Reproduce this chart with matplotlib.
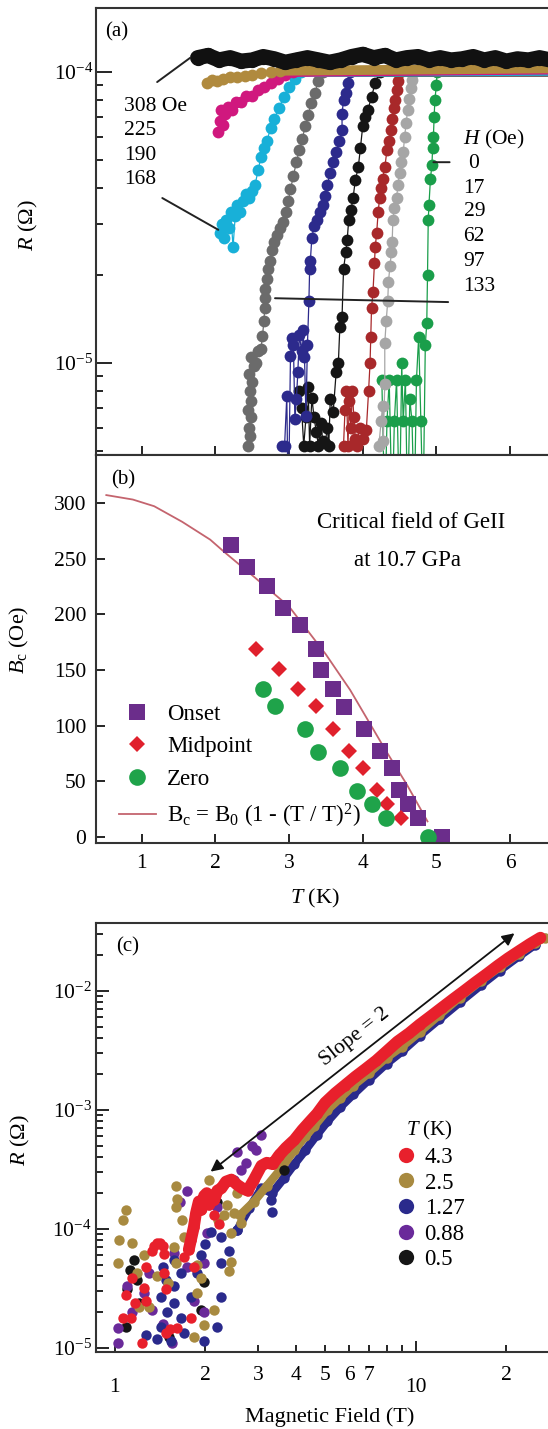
import matplotlib
matplotlib.use("Agg")
import matplotlib.pyplot as plt
from matplotlib.ticker import FixedLocator, NullFormatter, FixedFormatter
from matplotlib.lines import Line2D

plt.rcParams['font.family'] = ['Liberation Serif', 'DejaVu Serif']
plt.rcParams['mathtext.fontset'] = 'custom'
plt.rcParams['mathtext.rm'] = 'Liberation Serif'
plt.rcParams['mathtext.it'] = 'Liberation Serif:italic'
plt.rcParams['mathtext.bf'] = 'Liberation Serif:bold'
plt.rcParams['axes.linewidth'] = 1.5
plt.rcParams['axes.edgecolor'] = '#333333'

# ---------------- panel (a): R(T) at fixed fields ----------------
fields_a = [0, 17, 29, 62, 97, 133, 168, 190, 225]
colors_a = ['#1a9e4a', '#a6a6a6', '#a8282a', '#151515', '#2c2a8c',
            '#6b6b6b', '#18b0d8', '#d0187e', '#b08a3e']

T_0 = [4.26, 4.30, 4.33, 4.36, 4.40, 4.43, 4.46, 4.50, 4.53, 4.55, 4.58, 4.61, 4.64, 4.67, 4.70,
       4.73, 4.76, 4.79, 4.82, 4.85, 4.87, 4.88, 4.89, 4.90, 4.92, 4.94, 4.95, 4.96, 4.97, 4.98, 5.00, 5.01]
R_0 = [8.75e-6, 3e-6, 6.3e-6, 8.75e-6, 3e-6, 6.3e-6, 8.75e-6, 3e-6, 1.0e-5, 6.3e-6, 8.75e-6, 3e-6,
       7.5e-6, 6.3e-6, 3e-6, 8.75e-6, 1.23e-5, 6.3e-6, 3e-6, 1.15e-5, 1.37e-5, 2.0e-5, 3.1e-5, 3.5e-5,
       4.3e-5, 4.8e-5, 5.5e-5, 6.0e-5, 7.0e-5, 8.0e-5, 9.0e-5, 1.0e-4]

T_17 = [4.22, 4.25, 4.27, 4.28, 4.30, 4.30, 4.32, 4.34, 4.35, 4.37, 4.39, 4.40, 4.41, 4.43, 4.46,
        4.48, 4.50, 4.52, 4.55, 4.57, 4.59, 4.61, 4.63, 4.65, 4.67, 4.69]
R_17 = [5.2e-6, 6.3e-6, 7.1e-6, 5.4e-6, 8.5e-6, 1.17e-5, 1.4e-5, 1.63e-5, 1.9e-5, 2.15e-5, 2.4e-5,
        2.6e-5, 3.1e-5, 3.4e-5, 3.7e-5, 4.1e-5, 4.5e-5, 4.9e-5, 5.3e-5, 6.0e-5, 6.7e-5, 7.4e-5,
        8.1e-5, 8.8e-5, 9.4e-5, 1.0e-4]

T_29 = [3.74, 3.76, 3.78, 3.80, 3.82, 3.84, 3.86, 3.88, 3.90, 3.92, 3.96, 4.00, 4.05, 4.08, 4.10,
        4.11, 4.12, 4.14, 4.16, 4.17, 4.19, 4.21, 4.23, 4.25, 4.27, 4.30, 4.33, 4.36, 4.38, 4.40,
        4.42, 4.44, 4.46, 4.48, 4.50]
R_29 = [5.2e-6, 6.9e-6, 8.0e-6, 5.2e-6, 7.4e-6, 6.0e-6, 8.0e-6, 6.5e-6, 5.5e-6, 5.2e-6, 6.0e-6,
        5.5e-6, 5.9e-6, 8.0e-6, 1.0e-5, 1.23e-5, 1.54e-5, 1.76e-5, 2.2e-5, 2.5e-5, 2.8e-5, 3.3e-5,
        3.7e-5, 4.0e-5, 4.3e-5, 4.7e-5, 5.4e-5, 5.8e-5, 6.3e-5, 6.9e-5, 7.5e-5, 8.0e-5, 8.7e-5,
        9.3e-5, 1.0e-4]

T_62 = [3.14, 3.17, 3.20, 3.23, 3.26, 3.28, 3.31, 3.34, 3.37, 3.40, 3.43, 3.46, 3.49, 3.52, 3.54,
        3.56, 3.60, 3.64, 3.67, 3.69, 3.72, 3.74, 3.77, 3.79, 3.81, 3.84, 3.87, 3.90, 3.94, 3.97,
        4.00, 4.03, 4.07, 4.12, 4.17, 4.23]
R_62 = [8.0e-6, 7.0e-6, 5.2e-6, 6.5e-6, 8.3e-6, 5.2e-6, 7.6e-6, 6.5e-6, 5.8e-6, 5.2e-6, 6.2e-6,
        5.4e-6, 5.3e-6, 6.0e-6, 5.2e-6, 7.5e-6, 6.8e-6, 9.3e-6, 1.0e-5, 1.33e-5, 1.44e-5, 2.1e-5,
        2.4e-5, 2.65e-5, 3.1e-5, 3.35e-5, 3.7e-5, 4.25e-5, 4.7e-5, 5.5e-5, 6.5e-5, 7.0e-5, 7.4e-5,
        8.2e-5, 9.2e-5, 1.0e-4]

T_97 = [2.91, 2.94, 2.97, 2.99, 3.02, 3.04, 3.06, 3.08, 3.10, 3.12, 3.14, 3.17, 3.19, 3.21, 3.23,
        3.25, 3.27, 3.28, 3.29, 3.31, 3.34, 3.38, 3.42, 3.46, 3.49, 3.52, 3.56, 3.60, 3.64, 3.68,
        3.72, 3.72, 3.74, 3.77, 3.80, 3.83]
R_97 = [5.2e-6, 5.2e-6, 7.7e-6, 3e-6, 1.06e-5, 1.22e-5, 1.15e-5, 6.4e-6, 7.5e-6, 9.3e-6, 1.25e-5,
        1.1e-5, 1.3e-5, 1.05e-5, 6.6e-6, 1.15e-5, 1.63e-5, 2.1e-5, 2.25e-5, 2.7e-5, 2.95e-5, 3.1e-5,
        3.3e-5, 3.5e-5, 3.75e-5, 4.1e-5, 4.5e-5, 4.9e-5, 5.3e-5, 5.8e-5, 6.3e-5, 7.2e-5, 8.0e-5,
        8.5e-5, 9.2e-5, 1.0e-4]

T_133 = [2.45, 2.47, 2.46, 2.48, 2.45, 2.49, 2.47, 2.50, 2.46, 2.52, 2.48, 2.55, 2.58, 2.62, 2.64,
         2.66, 2.67, 2.67, 2.68, 2.70, 2.72, 2.74, 2.77, 2.80, 2.84, 2.88, 2.92, 2.96, 2.99, 3.02,
         3.06, 3.10, 3.14, 3.18, 3.22, 3.26, 3.30, 3.35, 3.40, 3.46]
R_133 = [5.2e-6, 5.6e-6, 6.0e-6, 6.5e-6, 6.9e-6, 7.4e-6, 8.0e-6, 8.6e-6, 9.2e-6, 9.8e-6, 1.05e-5,
         1.0e-5, 1.1e-5, 1.12e-5, 1.24e-5, 1.4e-5, 1.55e-5, 1.67e-5, 1.8e-5, 1.95e-5, 2.1e-5,
         2.25e-5, 2.45e-5, 2.6e-5, 2.75e-5, 2.9e-5, 3.05e-5, 3.3e-5, 3.6e-5, 3.95e-5, 4.4e-5,
         4.9e-5, 5.4e-5, 5.9e-5, 6.5e-5, 7.1e-5, 7.8e-5, 8.5e-5, 9.3e-5, 1.0e-4]

T_168 = [2.06, 2.09, 2.12, 2.15, 2.18, 2.21, 2.24, 2.27, 2.30, 2.34, 2.38, 2.42, 2.46, 2.50, 2.54,
         2.58, 2.62, 2.66, 2.70, 2.75, 2.80, 2.86, 2.93, 3.00, 3.08, 3.16]
R_168 = [2.8e-5, 3.0e-5, 2.7e-5, 3.1e-5, 2.9e-5, 3.3e-5, 2.5e-5, 3.2e-5, 3.5e-5, 3.3e-5, 3.6e-5,
         3.8e-5, 3.7e-5, 3.9e-5, 4.1e-5, 4.6e-5, 5.1e-5, 5.5e-5, 5.8e-5, 6.4e-5, 6.9e-5, 7.5e-5,
         8.2e-5, 8.9e-5, 9.5e-5, 1.0e-4]

T_190 = [2.04, 2.06, 2.08, 2.10, 2.13, 2.17, 2.22, 2.28, 2.35, 2.42, 2.50, 2.58, 2.66, 2.75, 2.85,
         2.95, 3.05]
R_190 = [6.2e-5, 6.8e-5, 7.4e-5, 6.6e-5, 7.2e-5, 7.6e-5, 7.4e-5, 7.9e-5, 7.9e-5, 8.3e-5, 8.3e-5,
         8.7e-5, 8.9e-5, 9.2e-5, 9.5e-5, 9.8e-5, 1.0e-4]

T_225 = [1.89, 1.95, 2.02, 2.10, 2.20, 2.30, 2.40, 2.50, 2.62, 2.75, 2.88]
R_225 = [9.2e-5, 9.4e-5, 9.3e-5, 9.5e-5, 9.6e-5, 9.6e-5, 9.7e-5, 9.8e-5, 9.9e-5, 1.0e-4, 1.01e-4]

# normal-state level each curve runs along up to the right edge
Rn_a = [1.01e-4, 1.02e-4, 1.0e-4, 1.01e-4, 1.02e-4, 1.0e-4, 1.01e-4, 1.02e-4, 1.03e-4]

T_308 = [1.76, 1.90, 2.05, 2.20, 2.35, 2.50, 2.65, 2.80, 2.95, 3.10, 3.25, 3.40, 3.55, 3.70, 3.85,
         4.00, 4.15, 4.30, 4.45, 4.60, 4.75, 4.90, 5.05, 5.20, 5.35, 5.50, 5.65, 5.80, 5.95, 6.10,
         6.25, 6.40, 6.55]
R_308 = [1.12e-4, 1.14e-4, 1.10e-4, 1.12e-4, 1.09e-4, 1.10e-4, 1.13e-4, 1.11e-4, 1.08e-4, 1.10e-4,
         1.12e-4, 1.10e-4, 1.08e-4, 1.10e-4, 1.13e-4, 1.15e-4, 1.12e-4, 1.14e-4, 1.10e-4, 1.12e-4,
         1.13e-4, 1.10e-4, 1.12e-4, 1.10e-4, 1.11e-4, 1.13e-4, 1.10e-4, 1.12e-4, 1.09e-4, 1.11e-4,
         1.10e-4, 1.12e-4, 1.10e-4]

T_a = [T_0, T_17, T_29, T_62, T_97, T_133, T_168, T_190, T_225]
R_a = [R_0, R_17, R_29, R_62, R_97, R_133, R_168, R_190, R_225]

# ---------------- panel (b): critical field ----------------
T_onset = [2.21, 2.43, 2.70, 2.92, 3.15, 3.37, 3.44, 3.60, 3.74, 4.02, 4.24, 4.40, 4.49, 4.61, 4.75, 5.08]
B_onset = [262, 242, 225, 206, 190, 169, 150, 133, 117, 97, 77, 62, 42, 30, 17, 0]
T_mid = [2.55, 2.87, 3.12, 3.36, 3.60, 3.82, 4.00, 4.19, 4.33, 4.52]
B_mid = [169, 151, 133, 118, 97, 77, 62, 42, 30, 17]
T_zero = [2.65, 2.81, 3.22, 3.40, 3.69, 3.92, 4.13, 4.31, 4.88]
B_zero = [133, 118, 97, 76, 62, 41, 30, 17, 0]
T_fit = [0.52, 0.88, 1.17, 1.55, 1.93, 2.12, 2.50, 3.00, 3.50, 3.83, 4.31, 4.60, 4.88]
B_fit = [307, 303, 297, 283, 267, 256, 235, 207, 164, 132, 78, 47, 14]

# ---------------- panel (c): R(H) ----------------
temps_c = ['4.3', '2.5', '1.27', '0.88', '0.5']
colors_c = ['#e8202c', '#a88a40', '#2a2a8c', '#6a2a9a', '#151515']

H_43 = [1.76, 1.79, 1.83, 1.86, 1.90, 1.94, 1.98, 2.02, 2.06, 2.10, 2.14, 2.19, 2.26, 2.34, 2.44,
        2.55, 2.65, 2.76, 2.90, 3.07, 3.20, 3.35, 3.50, 3.70, 3.95, 4.20, 4.45, 4.70, 5.00, 5.40,
        5.80, 6.30, 6.80, 7.40, 8.00, 8.70, 9.50, 10.3, 11.2, 12.2, 13.3, 14.5, 15.8, 17.2, 18.7,
        20.3, 22.0, 24.0, 26.0]
R_43 = [6.7e-5, 8.1e-5, 1.04e-4, 1.36e-4, 1.7e-4, 1.45e-4, 1.9e-4, 2.0e-4, 1.6e-4, 1.9e-4, 1.75e-4,
        2.1e-4, 2.2e-4, 2.5e-4, 2.6e-4, 2.35e-4, 2.2e-4, 2.1e-4, 2.6e-4, 3.4e-4, 3.6e-4, 3.5e-4,
        4.1e-4, 4.8e-4, 5.6e-4, 6.8e-4, 8.0e-4, 9.3e-4, 1.15e-3, 1.38e-3, 1.6e-3, 1.9e-3, 2.2e-3,
        2.6e-3, 3.1e-3, 3.75e-3, 4.4e-3, 5.2e-3, 6.1e-3, 7.2e-3, 8.5e-3, 1.0e-2, 1.18e-2, 1.38e-2,
        1.62e-2, 1.88e-2, 2.15e-2, 2.48e-2, 2.8e-2]
H_43s = [1.06, 1.09, 1.13, 1.14, 1.17, 1.23, 1.25, 1.27, 1.27, 1.33, 1.35, 1.38, 1.41, 1.44, 1.46,
         1.46, 1.48, 1.48, 1.53, 1.61, 1.70, 1.79, 1.83, 2.14, 2.22]
R_43s = [1.8e-5, 2.8e-5, 1.8e-5, 3.9e-5, 2.4e-5, 1.1e-5, 3.2e-5, 4.8e-5, 2.5e-5, 6.5e-5, 7.2e-5,
         7.6e-5, 7.6e-5, 7.2e-5, 6.2e-5, 4.3e-5, 3.1e-5, 1.33e-5, 1.43e-5, 1.47e-5, 5.8e-5, 1.8e-5,
         4.8e-5, 1.3e-4, 1.1e-4]

H_25 = [2.6, 2.9, 3.2, 3.6, 3.95, 4.3, 4.6, 5.09, 5.6, 6.2, 7.0, 8.0, 9.0, 10.3, 12, 14, 16.5, 19,
        22, 25, 27]
R_25 = [1.3e-4, 1.7e-4, 2.3e-4, 3.3e-4, 4.6e-4, 6.0e-4, 7.3e-4, 1.0e-3, 1.25e-3, 1.6e-3, 2.05e-3,
        2.75e-3, 3.4e-3, 4.5e-3, 6.3e-3, 8.8e-3, 1.22e-2, 1.58e-2, 2.05e-2, 2.55e-2, 2.8e-2]
H_25s = [1.02, 1.03, 1.06, 1.09, 1.14, 1.18, 1.20, 1.25, 1.30, 1.57, 1.60, 1.60, 1.60, 1.61, 1.67,
         1.70, 1.83, 1.83, 1.88, 1.88, 1.93, 1.98, 2.06, 2.09, 2.14, 2.40, 2.44, 2.44, 2.49, 2.63,
         1.50, 1.38, 2.30, 2.55, 2.35, 2.20]
R_25s = [5.2e-5, 8.1e-5, 1.19e-4, 1.44e-4, 7.6e-5, 4.3e-5, 2.2e-5, 6.0e-5, 2.2e-5, 7.0e-5, 2.3e-4,
         1.53e-4, 5.2e-5, 1.8e-4, 1.19e-4, 8.6e-5, 1.19e-4, 1.23e-5, 5.0e-5, 2.9e-5, 3.9e-5,
         1.56e-5, 2.6e-4, 1.75e-4, 2.1e-5, 4.4e-5, 5.3e-5, 9.3e-5, 1.36e-4, 1.12e-4, 3.5e-5,
         4.0e-5, 1.3e-4, 2.0e-4, 1.6e-4, 1.2e-4]

H_127 = [2.55, 2.8, 3.07, 3.33, 3.66, 3.95, 4.3, 4.7, 5.09, 5.6, 6.2, 7.0, 8.0, 9.0, 10.3, 12, 14,
         16.5, 19, 22, 25]
R_127 = [9.8e-5, 1.5e-4, 2.2e-4, 2.0e-4, 2.7e-4, 3.5e-4, 4.6e-4, 6.2e-4, 8.0e-4, 1.05e-3, 1.35e-3,
         1.8e-3, 2.45e-3, 3.1e-3, 4.2e-3, 5.8e-3, 8.0e-3, 1.12e-2, 1.48e-2, 1.95e-2, 2.45e-2]
H_127s = [1.27, 1.42, 1.42, 1.48, 1.49, 1.54, 1.57, 1.57, 1.57, 1.66, 1.66, 1.70, 1.79, 1.88, 1.93,
          1.98, 2.09, 2.19, 2.26, 2.26, 2.26, 2.55, 3.30, 3.33, 1.38, 1.45, 2.00, 2.40]
R_127s = [1.29e-5, 2.7e-5, 1.5e-5, 3.7e-5, 2.0e-5, 1.15e-5, 5.5e-5, 3.3e-5, 2.4e-5, 4.3e-5, 1.8e-5,
          1.33e-5, 2.7e-5, 4.3e-5, 6.0e-5, 1.15e-5, 9.4e-5, 1.5e-5, 8.6e-5, 5.2e-5, 2.7e-5, 9.8e-5,
          1.75e-4, 1.4e-4, 1.2e-5, 4.8e-5, 7.5e-5, 6.5e-5]

H_088 = [3.5, 4.0, 4.7, 5.5, 7, 9, 12, 16, 21, 25]
R_088 = [4.3e-4, 5.4e-4, 9.0e-4, 1.25e-3, 2.1e-3, 3.5e-3, 6.4e-3, 1.12e-2, 1.9e-2, 2.5e-2]
H_088s = [1.02, 1.02, 1.14, 1.25, 1.30, 1.33, 1.55, 1.57, 1.74, 1.74, 1.83, 1.98, 1.98, 2.02, 2.19,
          2.49, 1.10, 1.45, 1.65, 2.55, 2.62, 2.72, 2.85, 2.95, 3.07]
R_088s = [1.47e-5, 1.1e-5, 2.0e-5, 2.9e-5, 4.3e-5, 2.1e-5, 1.1e-5, 6.3e-5, 4.8e-5, 2.1e-4, 2.5e-5,
          2.0e-5, 5.2e-5, 9.3e-5, 1.53e-4, 2.6e-4, 3.3e-5, 1.6e-5, 1.7e-4, 4.4e-4, 3.1e-4, 3.6e-4,
          5.0e-4, 4.6e-4, 6.2e-4]

H_05s = [1.09, 1.10, 1.16, 1.18, 1.20, 1.51, 1.93, 1.98, 2.19, 3.66, 1.12]
R_05s = [1.5e-5, 3.1e-5, 5.5e-5, 3.7e-5, 2.4e-5, 1.23e-5, 2.1e-5, 3.6e-5, 1.7e-4, 3.1e-4, 4.5e-5]

# ---------------- figure ----------------
W, H = 548, 1429
fig = plt.figure(figsize=(W / 100, H / 100), dpi=100)
FS = 15.5


def box(left, top, right, bottom):
    return [left / W, 1 - bottom / H, (right - left) / W, (bottom - top) / H]


axa = fig.add_axes(box(96, 8, 552, 455))
axb = fig.add_axes(box(96, 455, 552, 843))
axc = fig.add_axes(box(96, 923, 552, 1352))

# panel (a)
for T, R, c, rn in zip(T_a, R_a, colors_a, Rn_a):
    axa.plot(T, R, '-o', color=c, lw=0.9, ms=8.5, mew=0)
    axa.plot([T[-1], 6.7], [R[-1], rn], color=c, lw=7, solid_capstyle='round')
axa.plot(T_308, R_308, '-o', color='#111111', lw=11, ms=11, mew=0, solid_capstyle='round')

axa.set_yscale('log')
axa.set_xlim(0.38, 6.57)
axa.set_ylim(4.83e-6, 1.66e-4)
axa.yaxis.set_major_locator(FixedLocator([1e-5, 1e-4]))
axa.yaxis.set_major_formatter(FixedFormatter([r'$10^{-5}$', r'$10^{-4}$']))
axa.yaxis.set_minor_locator(FixedLocator([5e-6, 6e-6, 7e-6, 8e-6, 9e-6, 2e-5, 3e-5, 4e-5, 5e-5,
                                          6e-5, 7e-5, 8e-5, 9e-5]))
axa.yaxis.set_minor_formatter(NullFormatter())
axa.set_xticks([1, 2, 3, 4, 5, 6])
axa.set_xticklabels([])
axa.tick_params(axis='y', which='major', direction='in', length=11.5, width=1.2, labelsize=FS, pad=2)
axa.tick_params(axis='y', which='minor', direction='in', length=5, width=1.2)
axa.tick_params(axis='x', which='both', direction='in', length=6.5, width=1.2)
axa.set_ylabel(r'$R$ ($\Omega$)', fontsize=16)
axa.yaxis.set_label_coords(-0.123, 0.515)

axa.text(0.02, 0.946, '(a)', transform=axa.transAxes, fontsize=15, va='center')
for s, yy in zip(['308 Oe', '225', '190', '168'], [0.779, 0.725, 0.671, 0.617]):
    axa.text(0.061, yy, s, transform=axa.transAxes, fontsize=15.5, va='center')
axa.text(0.805, 0.705, r'$H$ (Oe)', transform=axa.transAxes, fontsize=15.5, va='center')
for s, yy in zip(['0', '17', '29', '62', '97', '133'], [0.653, 0.597, 0.544, 0.488, 0.432, 0.376]):
    axa.text(0.815 if s == '0' else 0.806, yy, s, transform=axa.transAxes, fontsize=15.5, va='center')
line_kw = dict(arrowprops=dict(arrowstyle='-', lw=1.4, color='#222222', shrinkA=0, shrinkB=0))
axa.annotate('', xy=(1.66, 1.12e-4), xytext=(1.21, 9.24e-5), **line_kw)
axa.annotate('', xy=(2.04, 2.87e-5), xytext=(1.28, 3.69e-5), **line_kw)
axa.annotate('', xy=(2.81, 1.67e-5), xytext=(5.16, 1.62e-5), **line_kw)
axa.annotate('', xy=(4.96, 4.9e-5), xytext=(5.18, 4.9e-5), **line_kw)

# panel (b)
axb.plot(T_fit, B_fit, '-', color='#c4646e', lw=1.3, label=r'B$_\mathrm{c}$ = B$_0$ (1 - (T / T)$^2$)')
axb.plot(T_onset, B_onset, 's', color='#6b2d8b', ms=11.5, mew=0, label='Onset')
axb.plot(T_mid, B_mid, 'D', color='#e0202c', ms=8.5, mew=0, label='Midpoint')
axb.plot(T_zero, B_zero, 'o', color='#1fa34a', ms=12, mew=0, label='Zero')
axb.set_xlim(0.38, 6.57)
axb.set_ylim(-5.4, 343)
axb.set_xticks([1, 2, 3, 4, 5, 6])
axb.set_yticks([0, 50, 100, 150, 200, 250, 300])
axb.tick_params(which='both', direction='in', length=6.5, width=1.2, labelsize=FS)
axb.tick_params(axis='x', pad=8)
axb.tick_params(axis='y', pad=7)
axb.set_ylabel(r'$B_\mathrm{c}$ (Oe)', fontsize=16)
axb.yaxis.set_label_coords(-0.142, 0.523)
axb.set_xlabel(r'$T$ (K)', fontsize=16)
axb.xaxis.set_label_coords(0.48, -0.113)
axb.text(0.033, 0.936, '(b)', transform=axb.transAxes, fontsize=15, va='center')
axb.text(0.69, 0.825, 'Critical field of GeII', transform=axb.transAxes, fontsize=16.5,
         ha='center', va='center')
axb.text(0.683, 0.729, 'at 10.7 GPa', transform=axb.transAxes, fontsize=16.5, ha='center', va='center')
h, l = axb.get_legend_handles_labels()
axb.legend([h[1], h[2], h[3], h[0]], [l[1], l[2], l[3], l[0]], loc='upper left',
           bbox_to_anchor=(0.025, 0.388), frameon=False, fontsize=16.5, handlelength=1.6,
           handletextpad=0.5, labelspacing=0.5, borderpad=0.0)

# panel (c)
band_kw = dict(mew=0, ms=7.5, solid_capstyle='round')
axc.plot(H_088, R_088, '-o', color=colors_c[3], lw=6, **band_kw)
axc.plot(H_127, R_127, '-o', color=colors_c[2], lw=6, **band_kw)
axc.plot(H_25, R_25, '-o', color=colors_c[1], lw=6, **band_kw)
axc.plot(H_05s, R_05s, 'o', color=colors_c[4], ms=7.5, mew=0)
axc.plot(H_088s, R_088s, 'o', color=colors_c[3], ms=7.5, mew=0)
axc.plot(H_127s, R_127s, 'o', color=colors_c[2], ms=7.5, mew=0)
axc.plot(H_25s, R_25s, 'o', color=colors_c[1], ms=7.5, mew=0)
axc.plot(H_43, R_43, '-o', color=colors_c[0], lw=8.5, **band_kw)
axc.plot(H_43s, R_43s, 'o', color=colors_c[0], ms=7.5, mew=0)

axc.set_xscale('log')
axc.set_yscale('log')
axc.set_xlim(0.865, 28.4)
axc.set_ylim(9.25e-6, 3.72e-2)
axc.xaxis.set_major_locator(FixedLocator([1, 10]))
axc.xaxis.set_major_formatter(FixedFormatter(['1', '10']))
axc.xaxis.set_minor_locator(FixedLocator([2, 3, 4, 5, 6, 7, 8, 9, 20]))
axc.xaxis.set_minor_formatter(FixedFormatter(['2', '3', '4', '5', '6', '7', '', '', '2']))
axc.yaxis.set_major_locator(FixedLocator([1e-5, 1e-4, 1e-3, 1e-2]))
axc.yaxis.set_major_formatter(FixedFormatter([r'$10^{-5}$', r'$10^{-4}$', r'$10^{-3}$', r'$10^{-2}$']))
axc.yaxis.set_minor_locator(FixedLocator([m * 10.0 ** e for e in (-5, -4, -3, -2) for m in range(2, 10)]))
axc.yaxis.set_minor_formatter(NullFormatter())
axc.tick_params(axis='x', which='major', direction='in', length=8, width=1.2, labelsize=FS, pad=19)
axc.tick_params(axis='x', which='minor', direction='in', length=5, width=1.2, labelsize=FS, pad=10)
axc.tick_params(axis='y', which='major', direction='in', length=9, width=1.2, labelsize=FS, pad=3)
axc.tick_params(axis='y', which='minor', direction='in', length=5, width=1.2)
axc.set_ylabel(r'$R$ ($\Omega$)', fontsize=16)
axc.yaxis.set_label_coords(-0.141, 0.494)
axc.set_xlabel('Magnetic Field (T)', fontsize=16)
axc.xaxis.set_label_coords(0.512, -0.128)
axc.text(0.044, 0.944, '(c)', transform=axc.transAxes, fontsize=15, va='center')
axc.annotate('', xy=(21.3, 3.05e-2), xytext=(2.08, 3.03e-4),
             arrowprops=dict(arrowstyle='<|-|>', lw=1.3, color='#111111',
                             mutation_scale=18, shrinkA=0, shrinkB=0))
axc.text(0.567, 0.734, 'Slope = 2', transform=axc.transAxes, fontsize=15.5, rotation=38,
         ha='center', va='center')
handles_c = [Line2D([], [], ls='none', marker='o', ms=11, mew=0, color=c) for c in colors_c]
axc.legend(handles_c, temps_c, title=r'$T$ (K)', title_fontsize=15, fontsize=16.5, loc='upper left',
           bbox_to_anchor=(0.62, 0.58), frameon=False, handletextpad=0.3, labelspacing=0.2,
           borderpad=0.2, handlelength=1.0)

fig.savefig('out.png', dpi=100)
